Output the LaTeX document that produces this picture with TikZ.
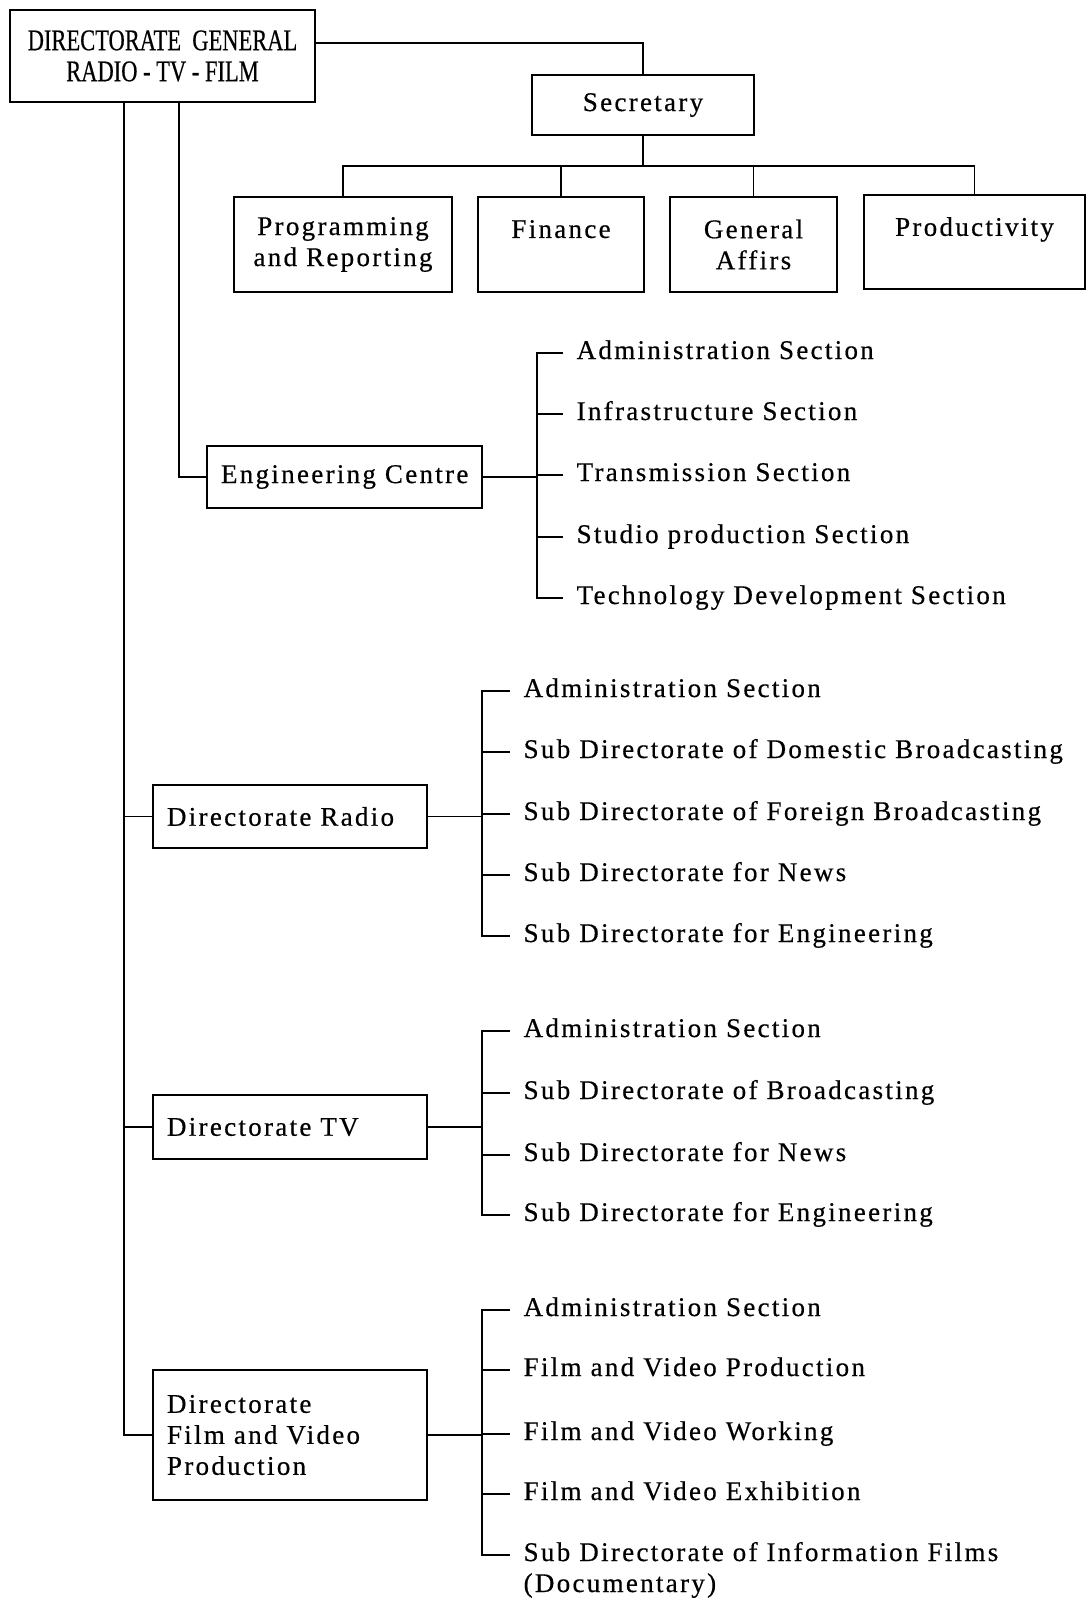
\documentclass[tikz,border=0pt]{standalone}
\usepackage{fontspec}
\setmainfont{Liberation Serif}[LetterSpace=8.5, FakeBold=0.5]
\newfontfamily\dgfont{Liberation Serif}[FakeStretch=0.75, FakeBold=0.5]

\begin{document}
\begin{tikzpicture}[x=1pt, y=-1pt, line width=1.3pt, font=\fontsize{27}{31}\selectfont,
  box/.style={rectangle, draw, line width=1.8pt, align=center, inner sep=0pt},
  lbox/.style={box, align=left, inner xsep=14pt},
  unit/.style={anchor=west, inner xsep=13pt, inner ysep=0pt, text height=17pt, text depth=5pt, align=left}]
\useasboundingbox (0,0) rectangle (1089,1606);

% Directorate General and secretariat
\node[box, minimum width=305pt, minimum height=92pt, font=\dgfont\fontsize{30}{31}\selectfont] (dg) at (162.5,56) {DIRECTORATE\ \ GENERAL\\RADIO - TV - FILM};
\node[box, minimum width=222pt, minimum height=60pt] (sec) at (643,105) {Secretary};
\node[box, minimum width=218pt, minimum height=95pt] (prog) at (343,244.5) {Programming\\and Reporting};
\node[box, minimum width=166pt, minimum height=95pt] (fin) at (561,244.5) {Finance\\\mbox{}};
\node[box, minimum width=167pt, minimum height=95pt] (gen) at (753.5,244.5) {General\\Affirs};
\node[box, minimum width=221pt, minimum height=94pt] (prod) at (974.5,242) {Productivity\\\mbox{}};

\draw ([yshift=13pt]dg.east) -| (sec.north);
\coordinate (bus) at (643,166);
\draw (sec.south) -- (bus);
\draw (prog.north) |- (bus) -| (prod.north);
\draw (fin.north) -- (fin.north |- bus);
\draw (gen.north) -- (gen.north |- bus);

% Directorates
\node[lbox, text width=247pt, minimum height=62pt] (eng) at (344.5,477) {Engineering Centre};
\node[lbox, text width=246pt, minimum height=63pt] (radio) at (290,816.5) {Directorate Radio};
\node[lbox, text width=246pt, minimum height=64pt] (tv) at (290,1127) {Directorate TV};
\node[lbox, text width=246pt, minimum height=130pt] (film) at (290,1435) {Directorate\\Film and Video\\Production};

\coordinate (trunk) at (124,102);
\coordinate (engtrunk) at (179,102);
\draw (trunk) |- (film.west);
\draw (radio.west) -- (radio.west -| trunk);
\draw (tv.west) -- (tv.west -| trunk);
\draw (engtrunk) |- (eng.west);

% Engineering Centre sections
\node[unit] (e1) at (563,353) {Administration Section};
\node[unit] (e2) at (563,414) {Infrastructure Section};
\node[unit] (e3) at (563,475) {Transmission Section};
\node[unit] (e4) at (563,537) {Studio production Section};
\node[unit] (e5) at (563,598) {Technology Development Section};
\coordinate (ebar) at (537,0);
\draw (e1.west) -| (e5.west -| ebar) -- (e5.west);
\draw (e2.west) -- (e2.west -| ebar);
\draw (e3.west) -- (e3.west -| ebar);
\draw (e4.west) -- (e4.west -| ebar);
\draw (eng.east) -- (eng.east -| ebar);

% Radio sub directorates
\node[unit] (r1) at (510,691) {Administration Section};
\node[unit] (r2) at (510,752) {Sub Directorate of Domestic Broadcasting};
\node[unit] (r3) at (510,814) {Sub Directorate of Foreign Broadcasting};
\node[unit] (r4) at (510,875) {Sub Directorate for News};
\node[unit] (r5) at (510,936) {Sub Directorate for Engineering};
\coordinate (rbar) at (482,0);
\draw (r1.west) -| (r5.west -| rbar) -- (r5.west);
\draw (r2.west) -- (r2.west -| rbar);
\draw (r3.west) -- (r3.west -| rbar);
\draw (r4.west) -- (r4.west -| rbar);
\draw (radio.east) -- (radio.east -| rbar);

% TV sub directorates
\node[unit] (t1) at (510,1031) {Administration Section};
\node[unit] (t2) at (510,1093) {Sub Directorate of Broadcasting};
\node[unit] (t3) at (510,1155) {Sub Directorate for News};
\node[unit] (t4) at (510,1215) {Sub Directorate for Engineering};
\draw (t1.west) -| (t4.west -| rbar) -- (t4.west);
\draw (t2.west) -- (t2.west -| rbar);
\draw (t3.west) -- (t3.west -| rbar);
\draw (tv.east) -- (tv.east -| rbar);

% Film and video sections
\node[unit] (f1) at (510,1310) {Administration Section};
\node[unit] (f2) at (510,1370) {Film and Video Production};
\node[unit] (f3) at (510,1434) {Film and Video Working};
\node[unit] (f4) at (510,1494) {Film and Video Exhibition};
\node[unit, text height=48pt] (f5) at (510,1570.5) {Sub Directorate of Information Films\\(Documentary)};
\coordinate (f5t) at ([yshift=15.5pt]f5.west);
\draw (f1.west) -| (f5t -| rbar) -- (f5t);
\draw (f2.west) -- (f2.west -| rbar);
\draw (f3.west) -- (f3.west -| rbar);
\draw (f4.west) -- (f4.west -| rbar);
\draw (film.east) -- (film.east -| rbar);
\end{tikzpicture}
\end{document}
